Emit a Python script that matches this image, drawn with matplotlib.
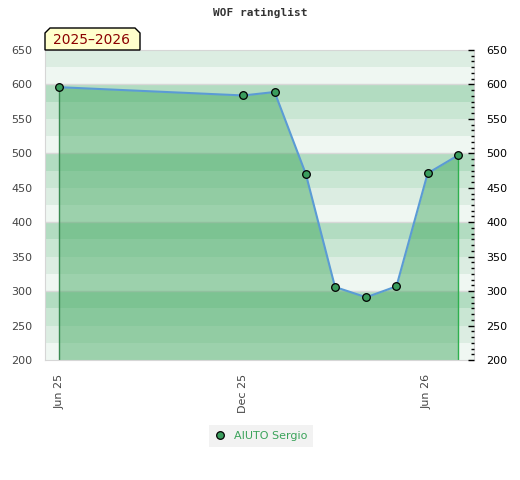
import datetime as dt
import matplotlib
matplotlib.use('Agg')
import matplotlib.pyplot as plt
import matplotlib.dates as mdates
from matplotlib.patches import Polygon
from matplotlib.ticker import MultipleLocator

# ---- data ----
dates = [dt.date(2025, 6, 1), dt.date(2025, 12, 1), dt.date(2026, 1, 1),
         dt.date(2026, 2, 1), dt.date(2026, 3, 2), dt.date(2026, 4, 2),
         dt.date(2026, 5, 2), dt.date(2026, 6, 2), dt.date(2026, 7, 2)]
ratings = [596, 584, 589, 470, 306, 291, 307, 471, 497]
player = 'AIUTO Sergio'
season = '2025\u20132026'
tick_dates = [dt.date(2025, 6, 1), dt.date(2025, 12, 1), dt.date(2026, 6, 1)]
tick_labels = ['Jun 25', 'Dec 25', 'Jun 26']

band_colors = ['#eff7f2', '#dcede2', '#c9e6d3', '#b2dcc1']

fig = plt.figure(figsize=(5.2, 4.8), dpi=100)
ax = fig.add_axes([45 / 520, 1 - 360 / 480, 429 / 520, 310 / 480])
ax.set_ylim(200, 650)
ax.set_xlim(dt.date(2025, 5, 18), dt.date(2026, 7, 18))

# striped background, 25-point bands
for lo in range(200, 650, 25):
    ax.axhspan(lo, lo + 25, color=band_colors[(lo % 100) // 25], lw=0, zorder=0)
for y in range(300, 700, 100):
    ax.axhline(y, color='#d8d8d8', lw=1, zorder=0.5)

x = mdates.date2num(dates)
ax.fill_between(x, ratings, 200, color='#40a75e', alpha=0.47, lw=0, zorder=1)
ax.plot([x[0], x[0]], [200, ratings[0]], color='#3a8a52', lw=1, zorder=2)
ax.plot([x[-1], x[-1]], [200, ratings[-1]], color='#2eb04e', lw=1, zorder=2)
ax.plot(x, ratings, color='#5b9bd5', lw=1.5, zorder=3)
ax.plot(x, ratings, 'o', ms=5.5, mfc='#3a9d5d', mec='black', mew=0.9,
        zorder=4, label=player)

for s in ax.spines.values():
    s.set_color('#d6d6d6')
ax.set_xticks(mdates.date2num(tick_dates))
ax.set_xticklabels(tick_labels, rotation=90, fontsize=8, color='#444444')
ax.tick_params(axis='x', length=0, pad=10)
ax.set_yticks(range(200, 651, 50))
ax.tick_params(axis='y', length=0, pad=9, labelsize=8, labelcolor='#444444')

ax2 = ax.twinx()
ax2.set_ylim(200, 650)
ax2.set_yticks(range(200, 651, 50))
ax2.yaxis.set_minor_locator(MultipleLocator(50 / 6))
ax2.tick_params(axis='y', which='major', direction='in', length=4, width=1,
                pad=9, labelsize=8, labelcolor='black')
ax2.tick_params(axis='y', which='minor', direction='in', length=2.5, width=1)
for s in ax2.spines.values():
    s.set_visible(False)

fig.text(260 / 520, 1 - 13 / 480, 'WOF ratinglist', ha='center', va='center',
         family='DejaVu Sans Mono', fontweight='bold', fontsize=8, color='#333333')

# season tag with clipped corners
px = [(45, 50), (45, 33), (50, 28), (135, 28), (140, 33), (140, 50)]
tag = Polygon([(a / 520, 1 - b / 480) for a, b in px], closed=True,
              transform=fig.transFigure, facecolor='#ffffcc', edgecolor='black',
              lw=1, zorder=5)
fig.patches.append(tag)
fig.text(92 / 520, 1 - 40 / 480, season, ha='center', va='center',
         fontsize=10, color='#8b0000', zorder=6)

leg = fig.legend(loc='center', bbox_to_anchor=(261 / 520, 1 - 436 / 480),
                 fontsize=8, frameon=True, facecolor='#efefef', edgecolor='none',
                 fancybox=False, labelcolor='#3aa35a', handlelength=1,
                 handletextpad=0.8, borderpad=0.5)

plt.savefig('out.png', dpi=100)
